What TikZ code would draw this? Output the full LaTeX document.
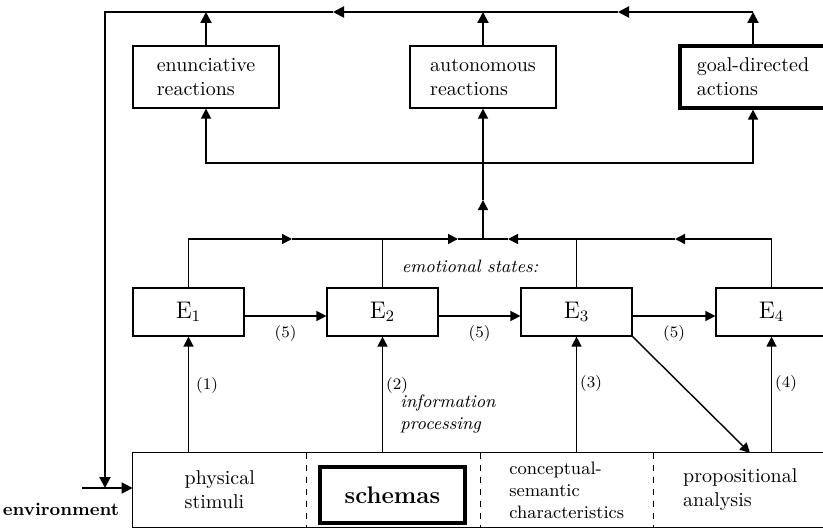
\documentclass[tikz,border=0pt]{standalone}
\usepackage{amsmath}
\usepackage{tikz}
\usetikzlibrary{arrows.meta}

\begin{document}
\begin{tikzpicture}[x=0.5pt,y=-0.5pt,
  box/.style={draw,line width=0.6pt,align=left,minimum width=73pt,minimum height=31pt},
  heavybox/.style={box,line width=1.6pt},
  ebox/.style={draw,line width=0.6pt,minimum width=55.5pt,minimum height=24pt,font=\large},
  part/.style={minimum width=86.75pt,minimum height=37pt,inner sep=0pt,align=left},
  flow/.style={line width=0.7pt,-{Triangle[length=5pt,width=5pt]}},
  feed/.style={line width=1pt,-{Triangle[length=5.5pt,width=5.5pt]}},
  num/.style={font=\footnotesize,inner sep=1.5pt}]
  \useasboundingbox (0,0) rectangle (823,529);
  \clip (0,0) rectangle (823,529);

  \node[box] (enunc) at (206,77) {enunciative\\reactions};
  \node[box] (auton) at (483,77) {autonomous\\reactions};
  \node[heavybox] (goal) at (753,77) {goal-directed\\actions};

  \node[ebox] (E1) at (188.5,312) {E$_1$};
  \node[ebox] (E2) at (382.5,312) {E$_2$};
  \node[ebox] (E3) at (576.5,312) {E$_3$};
  \node[ebox] (E4) at (771.5,312) {E$_4$};

  \node[part] (phys) at (219.75,490) {physical\\stimuli};
  \node[part] (schem) at (393.25,490) {};
  \node[part,font=\small] (concept) at (566.75,490) {conceptual-\\semantic\\characteristics};
  \node[part] (prop) at (740.25,490) {propositional\\analysis};
  \node[draw,line width=1.6pt,minimum width=72.5pt,minimum height=28pt,font=\large\bfseries]
    (schemas) at (392.5,495) {schemas};
  \draw[line width=0.6pt] (phys.north west) rectangle (prop.south east);
  \draw[dashed,line width=0.5pt] (phys.north east) -- (phys.south east);
  \draw[dashed,line width=0.5pt] (schem.north east) -- (schem.south east);
  \draw[dashed,line width=0.5pt] (concept.north east) -- (concept.south east);

  \node[font=\small\bfseries] (env) at (61,509) {environment};
  \node[font=\small\itshape] (emo) at (470,266) {emotional states:};
  \node[font=\small\itshape,align=left] (info) at (448,414) {information\\processing};

  \coordinate (topL) at (105,12);
  \coordinate (t1) at (618,12);
  \coordinate (t2) at (333,12);
  \coordinate (envL) at (82,488);
  \coordinate (envJ) at (105,488);
  \draw[feed] (goal.north) -- (goal.north |- topL);
  \draw[feed] (auton.north) -- (auton.north |- topL);
  \draw[feed] (enunc.north) -- (enunc.north |- topL);
  \draw[feed] (goal.north |- topL) -- (t1);
  \draw[feed] (t1) -- (t2);
  \draw[feed] (t2) -- (topL) -- (envJ);
  \draw[feed] (envL) -- (phys.west |- envL);

  \coordinate (dist) at (483,163);
  \coordinate (jn) at (483,239);
  \coordinate (v1) at (483,200);
  \draw[flow] (dist) -| (enunc.south);
  \draw[flow] (dist) -| (goal.south);
  \draw[flow] (jn) -- (v1);
  \draw[flow] (v1) -- (auton.south);

  \coordinate (a1) at (292,239);
  \coordinate (a2) at (458,239);
  \coordinate (a3) at (508,239);
  \coordinate (a4) at (675,239);
  \draw[flow] (E1.north) |- (a1);
  \draw[flow] (a1) -- (a2);
  \draw[line width=0.7pt] (a2) -- (jn);
  \draw[flow] (E4.north) |- (a4);
  \draw[flow] (a4) -- (a3);
  \draw[line width=0.7pt] (a3) -- (jn);
  \draw[line width=0.7pt] (E2.north) -- (E2.north |- jn);
  \draw[line width=0.7pt] (E3.north) -- (E3.north |- jn);

  \draw[flow] ([yshift=-2pt]E1.east) -- node[num,below=3pt] {(5)} ([yshift=-2pt]E2.west);
  \draw[flow] ([yshift=-2pt]E2.east) -- node[num,below=3pt] {(5)} ([yshift=-2pt]E3.west);
  \draw[flow] ([yshift=-2pt]E3.east) -- node[num,below=3pt] {(5)} ([yshift=-2pt]E4.west);

  \draw[flow] (E1.south |- phys.north) -- node[num,right=2pt,pos=0.58] {(1)} (E1.south);
  \draw[flow] (E2.south |- schem.north) -- node[num,right,pos=0.58] {(2)} (E2.south);
  \draw[flow] (E3.south |- concept.north) -- node[num,right,pos=0.6] {(3)} (E3.south);
  \draw[flow] (E4.south |- prop.north) -- node[num,right,pos=0.6] {(4)} (E4.south);

  \coordinate (diagEnd) at (750,453);
  \draw[flow] (E3.south east) -- (diagEnd);
\end{tikzpicture}
\end{document}
